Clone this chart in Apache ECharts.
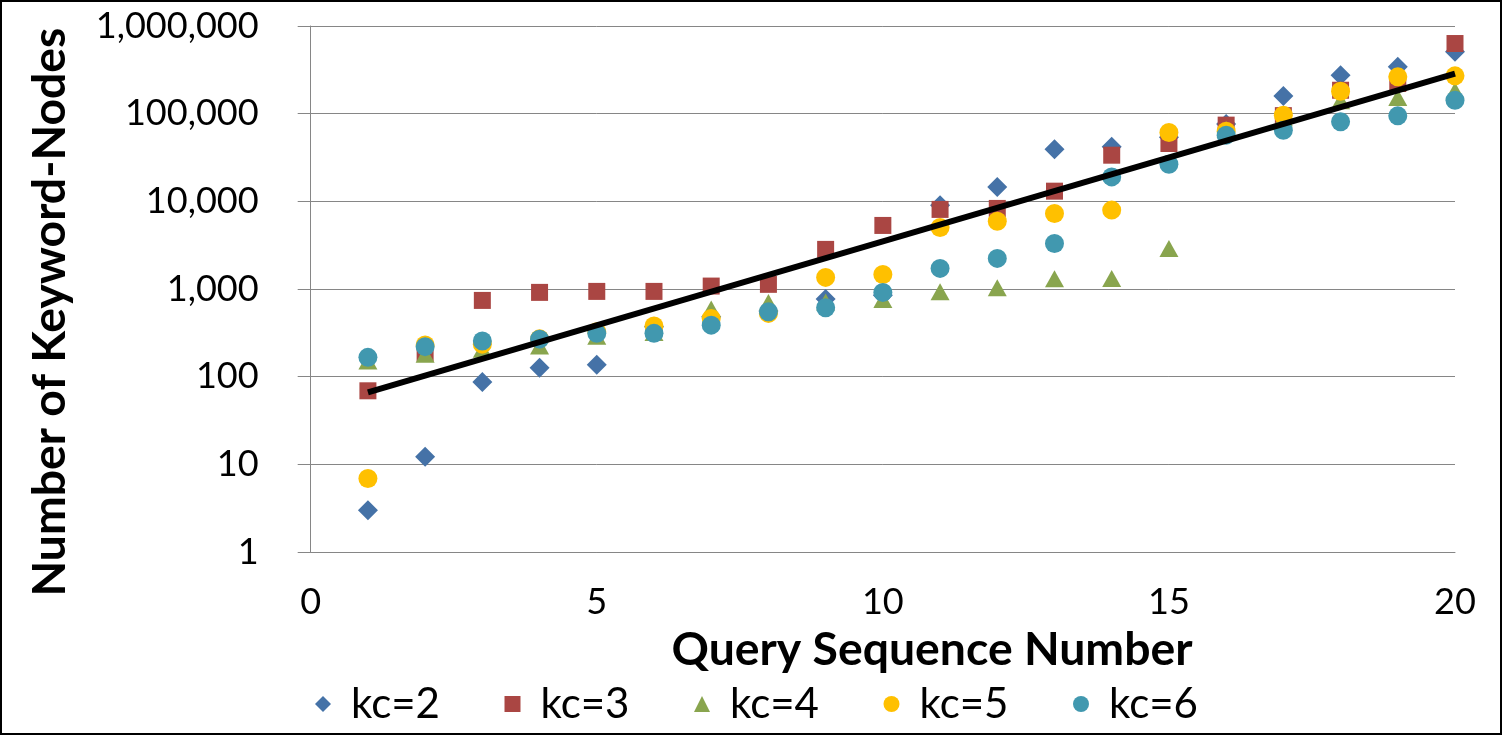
<!DOCTYPE html>
<html><head><meta charset="utf-8">
<script src="https://cdn.jsdelivr.net/npm/echarts@6/dist/echarts.min.js"></script>
<style>html,body{margin:0;padding:0;background:#fff}#c{width:1502px;height:735px}</style>
</head><body><div id="c"></div>
<script>
const querySeq = [1,2,3,4,5,6,7,8,9,10,11,12,13,14,15,16,17,18,19,20];
const kc2 = [3.0, 12.2, 87, 126, 137, 370, 482, 560, 767, 850, 9050, 14600, 39400, 42000, 54000, 76000, 159000, 275000, 342000, 507000];
const kc3 = [69, 185, 741, 915, 939, 939, 1080, 1130, 2830, 5310, 8090, 8300, 13060, 33600, 45700, 74000, 95000, 185000, 221000, 631000];
const kc4 = [151, 180, 205, 224, 290, 320, 590, 700, 710, 760, 930, 1030, 1310, 1320, 2900, 66000, 90000, 140000, 153000, 182000];
const kc5 = [6.9, 230, 235, 270, 325, 378, 462, 527, 1356, 1466, 5040, 5940, 7280, 7940, 61000, 63000, 96000, 180000, 263000, 270000];
const kc6 = [166, 220, 255, 268, 312, 312, 387, 550, 611, 915, 1718, 2235, 3310, 19000, 26500, 56900, 64700, 80700, 94400, 142500];
const trendX = [1, 20];
const trendY = [66, 287000];
const seriesNames = ['kc=2','kc=3','kc=4','kc=5','kc=6'];
const xTicks = [0, 5, 10, 15, 20];
const yTicks = [1, 10, 100, 1000, 10000, 100000, 1000000];

const FONT = 'Lato, "Open Sans", sans-serif';
const ctx = document.createElement('canvas').getContext('2d');
function fit(text, weight, target) {
  ctx.font = weight + ' 100px ' + FONT;
  return 100 * target / ctx.measureText(text).width;
}
function tw(text, weight, size) {
  ctx.font = weight + ' ' + size + 'px ' + FONT;
  return ctx.measureText(text).width;
}
const tickSize = fit('1,000,000', 'normal', 163);
const xTitleSize = fit('Query Sequence Number', 'bold', 521);
const yTitleSize = fit('Number of Keyword-Nodes', 'bold', 569);
const legSize = fit('kc=2', 'normal', 89);
const legTextW = tw('kc=2', 'normal', legSize);
const legIcon = 16;
const legPad = 15;
const legGap = 189.5 - (legIcon + 5 + legPad + legTextW);

const series = [kc2, kc3, kc4, kc5, kc6];
const colors = ['#4572A7', '#AA4643', '#89A54E', '#FFC000', '#4198AF'];
const symbols = ['diamond', 'rect', 'triangle', 'circle', 'circle'];
const sizes = [[20, 20], 17, [19, 17], 19, 19];

const chart = echarts.init(document.getElementById('c'));
chart.setOption({
  animation: false,
  backgroundColor: '#fff',
  textStyle: { fontFamily: FONT },
  grid: { left: 310.7, right: 47, top: 26, bottom: 183 },
  xAxis: {
    type: 'value', min: xTicks[0], max: xTicks[xTicks.length - 1], interval: 5,
    axisLine: { show: true, lineStyle: { color: '#868686', width: 1 } },
    axisTick: { show: false },
    splitLine: { show: false },
    axisLabel: { fontSize: tickSize, color: '#000', margin: 32, fontFamily: FONT }
  },
  yAxis: {
    type: 'log', logBase: 10, min: yTicks[0], max: yTicks[yTicks.length - 1],
    axisLine: { show: true, lineStyle: { color: '#868686', width: 1 } },
    axisTick: { show: true, length: 13, lineStyle: { color: '#868686' } },
    splitLine: { show: true, lineStyle: { color: '#868686', width: 1 } },
    axisLabel: { fontSize: tickSize, color: '#000', margin: 52, fontFamily: FONT,
      formatter: v => Number(v).toLocaleString('en-US') }
  },
  legend: {
    data: seriesNames.map((n, i) => ({ name: n, icon: symbols[i] })),
    left: 310, top: 674, orient: 'horizontal',
    itemWidth: legIcon, itemHeight: legIcon, itemGap: legGap,
    textStyle: { fontSize: legSize, lineHeight: 50, color: '#000', fontFamily: FONT, padding: [0, 0, 0, legPad] }
  },
  graphic: [
    { type: 'rect', shape: { x: 1, y: 1, width: 1500, height: 733 },
      style: { fill: 'none', stroke: '#000', lineWidth: 2 }, z: 100 },
    { type: 'text', x: 932, y: 650,
      style: { text: 'Query Sequence Number', font: 'bold ' + xTitleSize + 'px ' + FONT,
        fill: '#000', textAlign: 'center', textVerticalAlign: 'middle' } },
    { type: 'text', x: 50, y: 312, rotation: Math.PI / 2,
      style: { text: 'Number of Keyword-Nodes', font: 'bold ' + yTitleSize + 'px ' + FONT,
        fill: '#000', textAlign: 'center', textVerticalAlign: 'middle' } }
  ],
  series: series.map((vals, i) => ({
    name: seriesNames[i], type: 'scatter',
    symbol: symbols[i], symbolSize: sizes[i],
    itemStyle: { color: colors[i], opacity: 1 },
    z: 2 + i,
    data: querySeq.map((q, j) => [q, vals[j]])
  })).concat([{
    name: 'trend', type: 'line', z: 20, symbol: 'none',
    lineStyle: { color: '#000', width: 6 },
    data: trendX.map((x, j) => [x, trendY[j]])
  }])
});
</script></body></html>
